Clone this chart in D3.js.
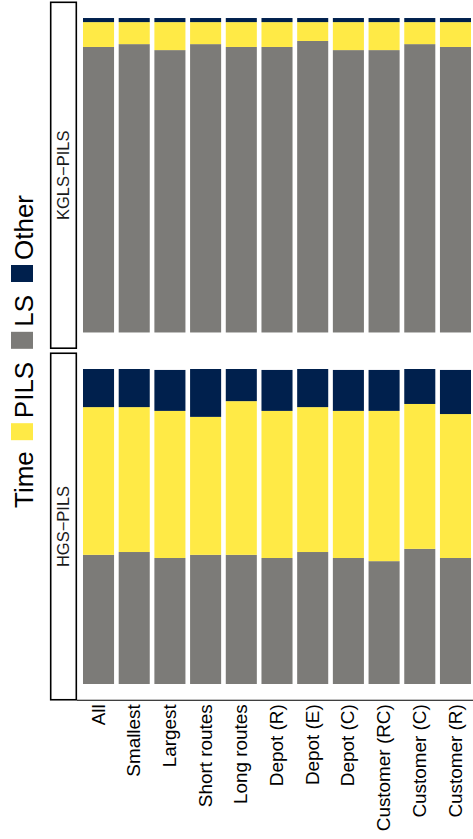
<!DOCTYPE html>
<html><head><meta charset="utf-8">
<script src="https://cdn.jsdelivr.net/npm/d3@7"></script>
<style>
html,body{margin:0;padding:0;background:#fff;}
svg{display:block;font-family:"Liberation Sans",Arial,Helvetica,sans-serif;}
</style></head>
<body>
<svg id="chart" width="473" height="839"></svg>
<script>
const categories = ["All","Smallest","Largest","Short routes","Long routes","Depot (R)","Depot (E)","Depot (C)","Customer (RC)","Customer (C)","Customer (R)"];
const panels = ["KGLS\u2212PILS","HGS\u2212PILS"];
const seriesNames = ["LS","PILS","Other"];
const legendOrder = ["PILS","LS","Other"];
const legendTitle = "Time";
const colors = {LS:"#7C7B78", PILS:"#FFEA46", Other:"#00204D"};

// KGLS-PILS
const kglsLS    = [0.908,0.917,0.898,0.917,0.908,0.908,0.927,0.898,0.898,0.917,0.908];
const kglsPILS  = [0.079,0.070,0.089,0.070,0.079,0.079,0.060,0.089,0.089,0.070,0.079];
const kglsOther = [0.013,0.013,0.013,0.013,0.013,0.013,0.013,0.013,0.013,0.013,0.013];
// HGS-PILS
const hgsLS    = [0.410,0.419,0.400,0.410,0.410,0.400,0.419,0.400,0.390,0.429,0.400];
const hgsPILS  = [0.469,0.460,0.467,0.438,0.488,0.467,0.460,0.467,0.477,0.460,0.457];
const hgsOther = [0.121,0.121,0.130,0.152,0.102,0.130,0.121,0.130,0.130,0.111,0.140];

const panelData = [
  {name:panels[0], LS:kglsLS, PILS:kglsPILS, Other:kglsOther, top:2.3, bottom:348.2},
  {name:panels[1], LS:hgsLS, PILS:hgsPILS, Other:hgsOther, top:353.25, bottom:699.75}
];

const svg = d3.select("#chart");

const x = d3.scaleBand().domain(categories).range([77.5, 476.5]).paddingInner(0.13).paddingOuter(0.154);

panelData.forEach(p => {
  const y = d3.scaleLinear().domain([-0.05, 1.05]).range([p.bottom, p.top]);
  const rows = categories.map((c,i) => ({cat:c, LS:p.LS[i], PILS:p.PILS[i], Other:p.Other[i]}));
  const stacked = d3.stack().keys(seriesNames)(rows);
  const g = svg.append("g");
  g.selectAll("g.s").data(stacked).join("g").attr("fill", d => colors[d.key])
    .selectAll("rect").data(d => d).join("rect")
    .attr("x", d => x(d.data.cat))
    .attr("width", x.bandwidth())
    .attr("y", d => y(d[1]))
    .attr("height", d => y(d[0]) - y(d[1]));
  // strip
  svg.append("rect").attr("x", 50.7).attr("y", p.top).attr("width", 25.6).attr("height", p.bottom - p.top)
    .attr("fill", "#fff").attr("stroke", "#000").attr("stroke-width", 1.6);
  const cy = (p.top + p.bottom) / 2;
  svg.append("text").attr("transform", `translate(63.5,${cy}) rotate(-90)`)
    .attr("text-anchor", "middle").attr("dy", "0.36em")
    .attr("font-size", 16.5).attr("fill", "#1a1a1a").text(p.name);
});

// x axis
const xAxisY = panelData[1].bottom;
const axis = d3.axisBottom(x).tickSize(0).tickPadding(0);
const ag = svg.append("g").attr("transform", `translate(0,${xAxisY})`).call(axis);
ag.select(".domain").attr("d", `M77,0.5H473`).attr("stroke", "#000").attr("stroke-width", 1);
ag.selectAll(".tick text")
  .attr("transform", "translate(0,4.5) rotate(-90)")
  .attr("text-anchor", "end").attr("x", 0).attr("y", 0).attr("dy", "0.32em")
  .attr("font-size", 18.9).attr("font-family", "\"Liberation Sans\",Arial,sans-serif").attr("fill", "#000");

// legend (rotated)
const lg = svg.append("g");
const baseX = 32.5, fs = 26;
let pos = 508;
const title = lg.append("text").attr("transform", `translate(${baseX},${pos}) rotate(-90)`)
  .attr("font-size", fs).attr("fill", "#000").text(legendTitle);
pos -= title.node().getComputedTextLength() + 11;
legendOrder.forEach(k => {
  lg.append("rect").attr("x", 11).attr("y", pos - 17).attr("width", 22).attr("height", 17).attr("fill", colors[k]);
  pos -= 17 + 5;
  const t = lg.append("text").attr("transform", `translate(${baseX},${pos}) rotate(-90)`)
    .attr("font-size", fs).attr("fill", "#000").text(k);
  pos -= t.node().getComputedTextLength() + 13;
});
</script>
</body></html>
